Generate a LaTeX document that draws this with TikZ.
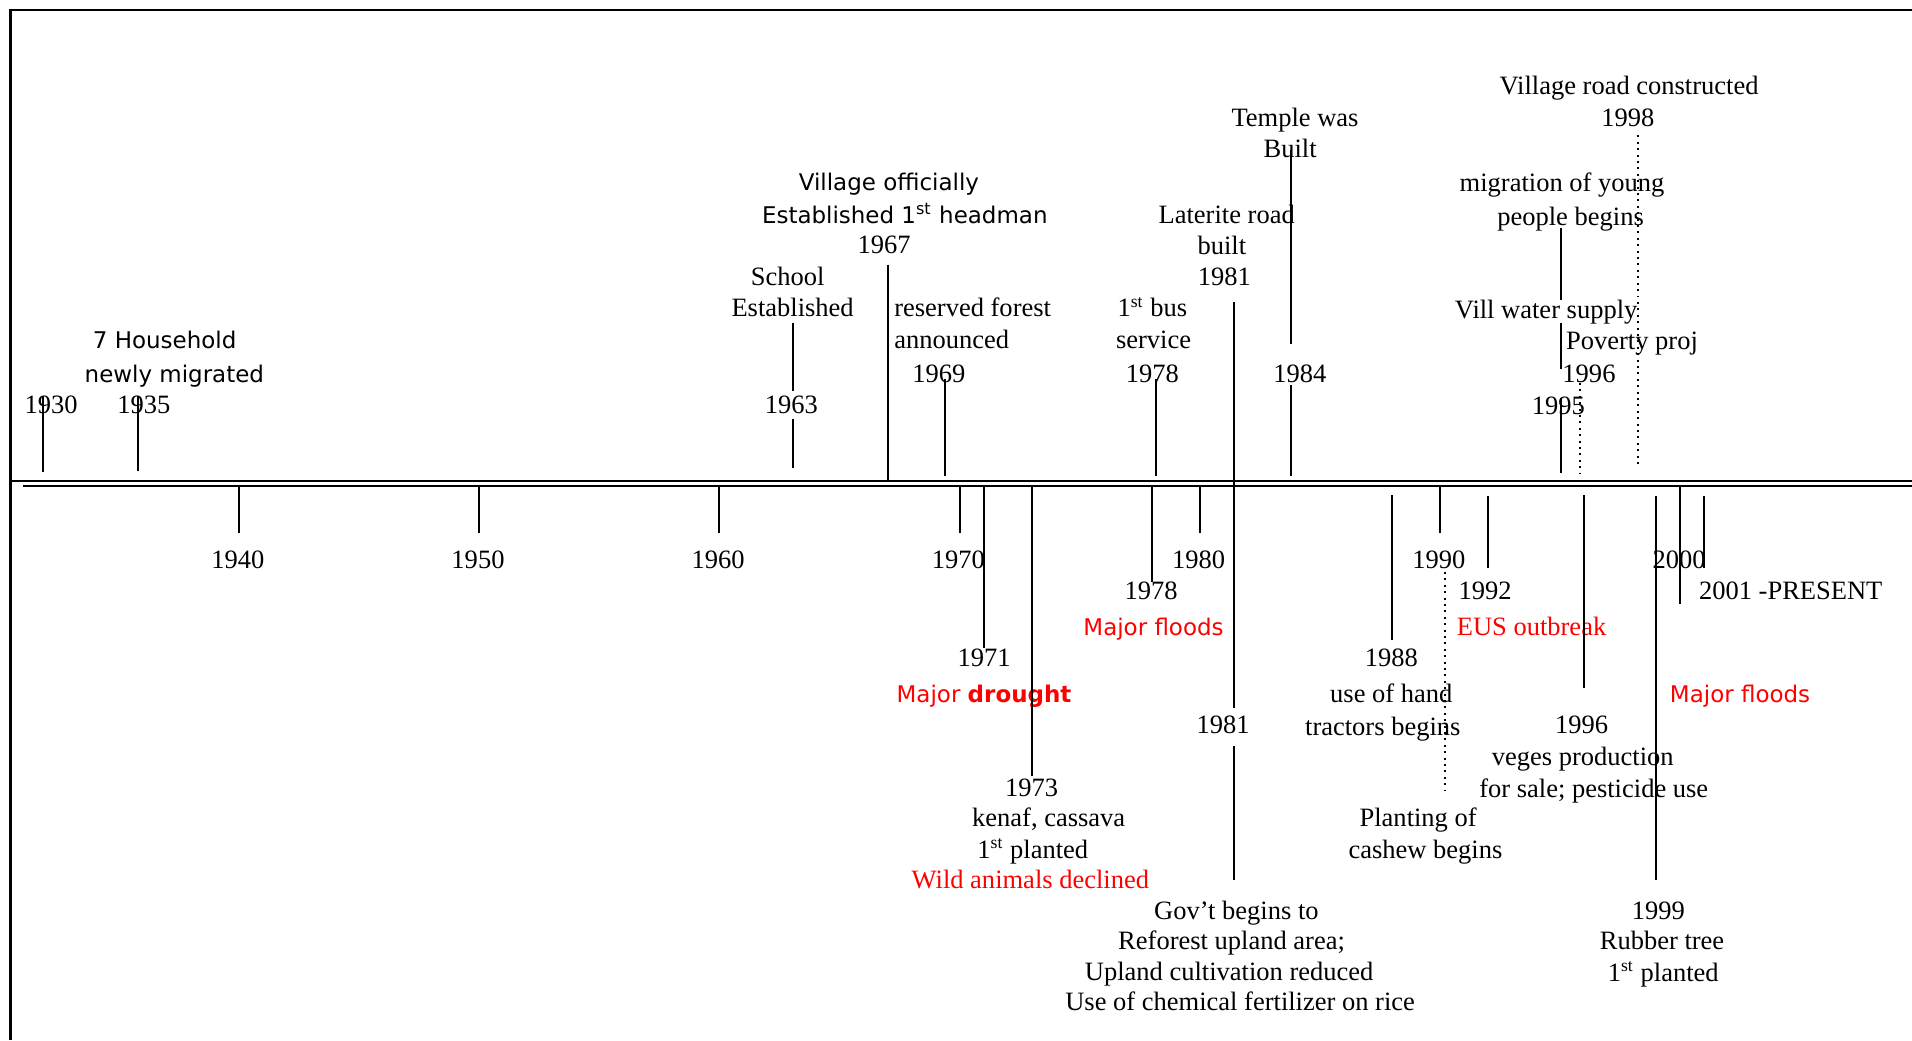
\documentclass[tikz,border=0pt]{standalone}
\usepackage{fontspec}
\setmainfont{Liberation Serif}
\newfontfamily\comicfont{DejaVu Sans}
\definecolor{alertred}{RGB}{255,0,0}
\tikzset{
  yr/.style={inner sep=0pt, yshift=-1.6pt, font=\fontsize{12}{13.8}\selectfont, text height=8pt, text depth=2.5pt},
  cmc/.style={yr, font=\comicfont\fontsize{10.4}{13.8}\selectfont},
  hot/.style={text=alertred},
  tick/.style={line width=0.9pt},
  dtick/.style={line width=0.9pt, dotted},
}
\begin{document}
\begin{tikzpicture}[x=0.552pt,y=-0.552pt]
  \useasboundingbox (0,0) rectangle (1568,853);
  % frame and the double axis
  \draw[line width=1.1pt] (8.5,853) -- (8.5,8) -- (1568,8);
  \draw[line width=1pt] (8.5,394.5) -- (1568,394.5);
  \draw[line width=1pt] (19,398.5) -- (1568,398.5);
  % decades
  \foreach \yr [count=\i from 0] in {1940,1950,...,2000} {
    \draw[tick] (196+197*\i,398) -- (196+197*\i,437);
    \node[yr] (d\yr) at (195+197*\i,458) {\yr};
  }
  \draw[tick] (1378,437) -- (1378,495);

  % above the axis
  \node[yr] (y1930) at (42,331) {1930};
  \draw[tick] (35,325) -- (35,387);
  \node[cmc] (hh1) at (135,278) {7 Household};
  \node[cmc] (hh2) at (143,306) {newly migrated};
  \node[yr] (y1935) at (118,331) {1935};
  \draw[tick] (113,325) -- (113,386);

  \node[yr] (sc1) at (646,226) {School};
  \node[yr] (sc2) at (650,252) {Established};
  \draw[tick] (650,265) -- (650,321);
  \node[yr] (y1963) at (649,331) {1963};
  \draw[tick] (650,344) -- (650,384);

  \node[cmc] (vo1) at (729,148) {Village officially};
  \node[cmc] (vo2) at (742,175) {Established 1\textsuperscript{st} headman};
  \node[yr] (y1967) at (725,200) {1967};
  \draw[tick] (728,217) -- (728,394);

  \node[yr,anchor=west] (rf1) at (733,252) {reserved forest};
  \node[yr,anchor=west] (rf2) at (733,278) {announced};
  \node[yr] (y1969) at (770,306) {1969};
  \draw[tick] (775,311) -- (775,390);

  \node[yr] (bus1) at (945,252) {1\textsuperscript{st} bus};
  \node[yr] (bus2) at (946,278) {service};
  \node[yr] (y1978a) at (945,306) {1978};
  \draw[tick] (948,311) -- (948,390);

  \node[yr] (lr1) at (1006,175) {Laterite road};
  \node[yr] (lr2) at (1002,201) {built};
  \node[yr] (y1981a) at (1004,226) {1981};
  \draw[tick] (1012,248) -- (1012,581);
  \node[yr] (y1981b) at (1003,594) {1981};
  \draw[tick] (1012,612) -- (1012,722);

  \node[yr] (tp1) at (1062,96) {Temple was};
  \node[yr] (tp2) at (1058,121) {Built};
  \draw[tick] (1059,123) -- (1059,282);
  \node[yr] (y1984) at (1066,306) {1984};
  \draw[tick] (1059,316) -- (1059,390);

  \node[yr] (vr1) at (1336,70) {Village road constructed};
  \node[yr] (y1998) at (1335,96) {1998};
  \draw[dtick] (1343,111) -- (1343,384);

  \node[yr] (mg1) at (1281,149) {migration of young};
  \node[yr] (mg2) at (1288,177) {people begins};
  \draw[tick] (1280,187) -- (1280,246);
  \node[yr] (ws) at (1268,253) {Vill water supply};
  \draw[tick] (1280,265) -- (1280,303);
  \node[yr,anchor=west] (pv) at (1284,279) {Poverty proj};
  \node[yr,anchor=west] (y1996a) at (1281,306) {1996};
  \draw[dtick] (1296,314) -- (1296,388);
  \node[yr] (y1995) at (1278,332) {1995};
  \draw[tick] (1280,326) -- (1280,388);

  % below the axis
  \draw[tick] (807,398) -- (807,531);
  \node[yr] (y1971) at (807,539) {1971};
  \node[cmc,hot] (dr) at (807,568) {Major \textbf{drought}};

  \draw[tick] (846,398) -- (846,636);
  \node[yr] (y1973) at (846,645) {1973};
  \node[yr] (kc) at (860,670) {kenaf, cassava};
  \node[yr] (kp) at (847,696) {1\textsuperscript{st} planted};
  \node[yr,hot] (wa) at (845,721) {Wild animals declined};

  \draw[tick] (945,398) -- (945,477);
  \node[yr] (y1978b) at (944,484) {1978};
  \node[cmc,hot] (fl1) at (946,513) {Major floods};

  \node[yr] (gv1) at (1014,746) {Gov’t begins to};
  \node[yr] (gv2) at (1010,771) {Reforest upland area;};
  \node[yr] (gv3) at (1008,796) {Upland cultivation reduced};
  \node[yr] (gv4) at (1017,821) {Use of chemical fertilizer on rice};

  \draw[tick] (1141.5,406) -- (1141.5,525);
  \node[yr] (y1988) at (1141,539) {1988};
  \node[yr] (ht1) at (1141,568) {use of hand};
  \node[yr] (ht2) at (1134,595) {tractors begins};

  \draw[dtick] (1185,469) -- (1185,648);
  \node[yr] (cs1) at (1163,670) {Planting of};
  \node[yr] (cs2) at (1169,696) {cashew begins};

  \draw[tick] (1220,407) -- (1220,466);
  \node[yr] (y1992) at (1218,484) {1992};
  \node[yr,hot] (eus) at (1256,513) {EUS outbreak};

  \draw[tick] (1397.5,407) -- (1397.5,466);
  \node[yr,anchor=west] (prs) at (1393,484) {2001 -PRESENT};

  \draw[tick] (1299,406) -- (1299,564);
  \node[yr] (y1996b) at (1297,594) {1996};
  \node[yr] (vg1) at (1298,620) {veges production};
  \node[yr] (vg2) at (1307,646) {for sale; pesticide use};

  \node[cmc,hot] (fl2) at (1427,568) {Major floods};

  \draw[tick] (1358,407) -- (1358,722);
  \node[yr] (y1999) at (1360,746) {1999};
  \node[yr] (rb1) at (1363,771) {Rubber tree};
  \node[yr] (rb2) at (1364,797) {1\textsuperscript{st} planted};
\end{tikzpicture}
\end{document}
